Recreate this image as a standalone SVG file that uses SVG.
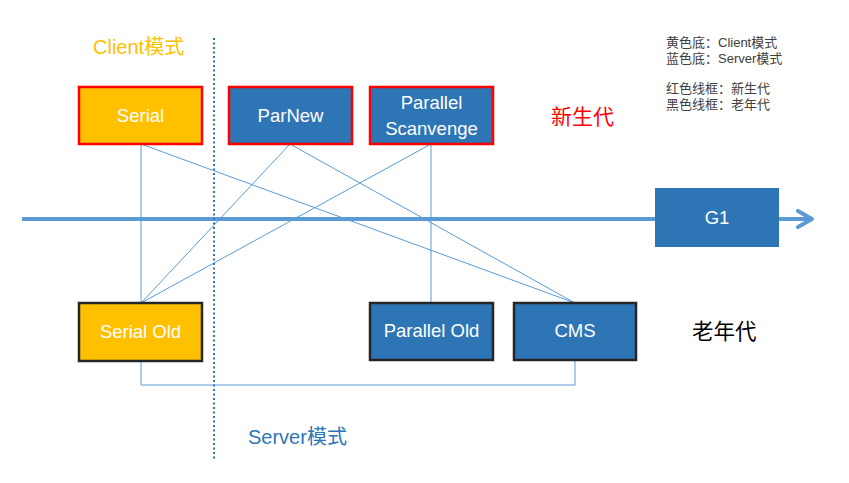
<svg xmlns="http://www.w3.org/2000/svg" width="849" height="483" viewBox="0 0 849 483">
<defs>
<style>
.y{fill:#FFC000}
.b{fill:#2E75B6}
.red{stroke:#FF0000;stroke-width:2.5}
.blk{stroke:#262626;stroke-width:2.5}
.nt{font-family:"Liberation Sans","Noto Sans",sans-serif;font-size:18.5px;fill:#FFFFFF;text-anchor:middle}
.c{stroke:#5B9BD5;stroke-width:1;fill:none}
.cjk{font-family:"Liberation Sans","Noto Sans CJK SC",sans-serif}
.lg{font-family:"Liberation Sans","Noto Sans CJK SC",sans-serif;font-size:13px;fill:#404040}
</style>
<marker id="ah" viewBox="0 0 10 10" refX="8" refY="5" markerWidth="5" markerHeight="5" orient="auto" markerUnits="strokeWidth">
<path d="M1,1 L8,5 L1,9" fill="none" stroke="#5B9BD5" stroke-width="2" stroke-linecap="round" stroke-linejoin="round"/>
</marker>
</defs>
<rect width="849" height="483" fill="#FFFFFF"/>

<g id="timeline">
<line x1="22" y1="219" x2="812" y2="219" stroke="#5B9BD5" stroke-width="4" marker-end="url(#ah)"/>
</g>

<g id="connectors">
<line class="c" x1="141" y1="144" x2="141" y2="303"/>
<line class="c" x1="141" y1="144" x2="575" y2="303"/>
<line class="c" x1="290" y1="144" x2="141" y2="303"/>
<line class="c" x1="290" y1="144" x2="575" y2="303"/>
<line class="c" x1="431" y1="144" x2="141" y2="303"/>
<line class="c" x1="431" y1="144" x2="431" y2="303"/>
<polyline class="c" points="141,361 141,385 575,385 575,360"/>
</g>

<g id="divider">
<line x1="214" y1="38" x2="214" y2="459" stroke="#2E75B6" stroke-width="2" stroke-dasharray="2,2.5"/>
</g>

<g id="serial"><rect class="y red" x="79" y="87" width="123" height="57"/><text class="nt" x="140.5" y="122">Serial</text></g>
<g id="parnew"><rect class="b red" x="229" y="87" width="123" height="57"/><text class="nt" x="290.5" y="122">ParNew</text></g>
<g id="parallel-scavenge"><rect class="b red" x="370" y="87" width="123" height="57"/><text class="nt" x="431.5" y="109">Parallel</text><text class="nt" x="431.5" y="135">Scanvenge</text></g>
<g id="g1"><rect class="b" x="655" y="188" width="124" height="59"/><text class="nt" x="717" y="224">G1</text></g>
<g id="serial-old"><rect class="y blk" x="79" y="303" width="123" height="58"/><text class="nt" x="140.5" y="338">Serial Old</text></g>
<g id="parallel-old"><rect class="b blk" x="370" y="303" width="123" height="57"/><text class="nt" x="431.5" y="337">Parallel Old</text></g>
<g id="cms"><rect class="b blk" x="514" y="303" width="122" height="57"/><text class="nt" x="575" y="337">CMS</text></g>

<g id="labels">
<text class="cjk" x="93" y="54" font-size="20" fill="#FFC000">Client模式</text>
<text class="cjk" x="248" y="444" font-size="20" fill="#2E75B6">Server模式</text>
<text class="cjk" x="551" y="124" font-size="21" fill="#FF0000">新生代</text>
<text class="cjk" x="692" y="339" font-size="21.5" fill="#000000">老年代</text>
</g>

<g id="legend">
<text class="lg" x="666" y="47">黄色底：Client模式</text>
<text class="lg" x="666" y="63">蓝色底：Server模式</text>
<text class="lg" x="666" y="93">红色线框：新生代</text>
<text class="lg" x="666" y="109">黑色线框：老年代</text>
</g>
</svg>
